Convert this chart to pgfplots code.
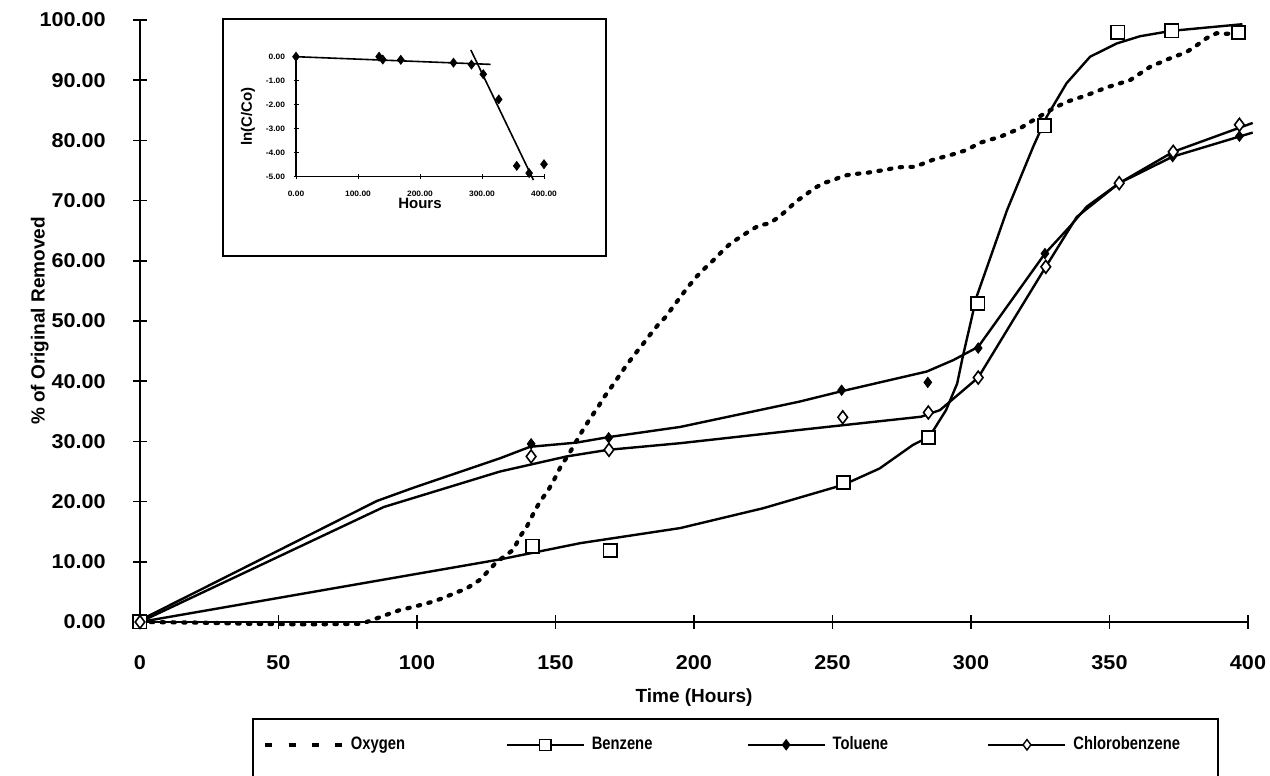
\documentclass[border=0pt]{standalone}
\usepackage{fontspec}
\setmainfont{Liberation Sans}
\newfontfamily\legfont{Liberation Sans}[FakeStretch=0.82]
\newfontfamily\tickfont{Liberation Sans}[FakeStretch=1.08]
\usepackage{pgfplots}
\pgfplotsset{compat=1.18}
\begin{document}
\begin{tikzpicture}
\begin{axis}[
  scale only axis, width=554pt, height=301pt,
  at={(70pt,77pt)}, anchor=south west,
  xmin=0, xmax=400, ymin=0, ymax=100,
  clip=false,
  axis x line*=bottom, axis y line*=left,
  axis line style={line width=1pt, black},
  xtick={0,50,...,400}, ytick={0,10,...,100},
  tick align=center, major tick length=7pt,
  tick style={line width=0.8pt, black},
  tick label style={font=\tickfont\bfseries\fontsize{10}{12}\selectfont},
  /pgf/number format/assume math mode=true,
  xticklabel style={anchor=north, inner sep=0pt, yshift=-13pt},
  yticklabel style={anchor=east, inner sep=0pt, xshift=-13.5pt,
    /pgf/number format/.cd, fixed, fixed zerofill, precision=2},
  xlabel={Time (Hours)},
  ylabel={\% of Original Removed},
  xlabel style={at={(axis description cs:0.5,-0.1096)}, anchor=north, inner sep=0pt, font=\bfseries\fontsize{9.5}{11}\selectfont},
  ylabel style={at={(axis description cs:-0.0821,0.5)}, rotate=0, anchor=south, inner sep=0pt, font=\bfseries\fontsize{9.5}{11}\selectfont},
  legend columns=4,
  legend cell align=left,
  legend image code/.code={\draw[mark repeat=2,mark phase=2,#1] plot coordinates {(0pt,0pt) (19.25pt,0pt) (38.5pt,0pt)};},
  legend style={at={(0.111,-0.204)}, anchor=west, draw=none, fill=none,
    inner sep=0pt, font=\legfont\bfseries\fontsize{9}{11}\selectfont,
    /tikz/every even column/.append style={column sep=0pt},
    /tikz/every odd column/.append style={column sep=0pt},
    nodes={inner xsep=3.5pt, inner ysep=1pt}},
]
\addlegendimage{black, line width=1.8pt, dash pattern=on 3.5pt off 8.2pt}
\addlegendentry{\makebox[74pt][l]{Oxygen}}
\addlegendimage{black, line width=0.9pt, mark=square*, mark size=2.8pt, mark options={fill=white, line width=0.7pt, solid}}
\addlegendentry{\makebox[74pt][l]{Benzene}}
\addlegendimage{black, line width=0.9pt, mark=diamond*, mark size=2.2pt, mark options={fill=black, solid}}
\addlegendentry{\makebox[74pt][l]{Toluene}}
\addlegendimage{black, line width=0.9pt, mark=diamond*, mark size=2.6pt, mark options={fill=white, line width=0.7pt, solid}}
\addlegendentry{\makebox[74pt][l]{Chlorobenzene}}

% Oxygen
\addplot[black, line width=2.1pt, line cap=round, dash pattern=on 1.2pt off 4.2pt, forget plot] coordinates {
(0,0) (20,-0.1) (40,-0.3) (60,-0.4) (80,-0.3) (85.4,0.6) (89,1.2) (93.9,2) (98.7,2.5) (105.9,3.4) (108.3,3.8) (118,5.6) (122.7,7) (128.2,9.7) (131.2,10.8) (134.8,12) (137.2,14.2) (139.6,15.8) (142,18) (144.4,20) (147.4,21.9) (149.8,23.9) (152.2,26.1) (154.6,27.7) (159.5,31.6) (162.5,33.8) (165.5,35.8) (167.3,37.2) (170.3,39.1) (173,40.9) (175.7,42.7) (178.5,44.4) (181.3,46) (184.1,47.7) (186.9,49.3) (189.8,50.7) (192.5,52.4) (197.9,55.7) (201,57.4) (204,58.8) (207,60.1) (210,61.5) (213.2,62.9) (216.9,64) (220.2,65) (223.6,65.9) (227.2,66.2) (230.4,67.2) (233.5,68.4) (236.7,69.8) (240.1,70.9) (243.3,72) (246.7,72.9) (250.3,73.4) (253.7,74.1) (257.5,74.4) (262.3,74.6) (266,74.9) (269.3,75.1) (272.9,75.5) (276.3,75.6) (279.8,75.6) (283,76.2) (286.4,76.8) (293.6,77.7) (298.4,78.4) (303.2,79.6) (310.5,80.6) (317.7,82) (323.7,83.7) (329.7,85.3) (334.5,86.4) (341.8,87.5) (349,88.8) (357.4,90) (364.6,92.2) (370.6,93.4) (377.9,94.7) (381.5,95.8) (385.1,97) (388.7,97.8) (392.3,97.7) (395,97.8)
};
% Benzene fit line
\addplot[black, line width=1.2pt, forget plot] coordinates {
(0,0) (50,4) (100,8) (130,10.4) (159,13.1) (195,15.6) (225,18.9) (254,22.8) (267,25.5) (279,29.4) (285,30.8) (291,35.2) (295,39.6) (297,44) (302,54) (313,68.4) (322.5,79) (327.3,83.9) (334.5,89.5) (343,93.9) (352.6,96.1) (361,97.3) (372.4,98.2) (398,99.3)
};
% Toluene fit line
\addplot[black, line width=1.2pt, forget plot] coordinates {
(0,0.3) (85.5,20.1) (98.7,22.3) (130,27.2) (140.8,29.1) (157.6,29.8) (169,30.7) (195,32.4) (238,36.6) (253,38.3) (284,41.6) (293.6,43.5) (302.6,45.7) (326.7,61.2) (335.7,65.7) (341.8,69) (353.5,72.9) (372.8,77.3) (401.7,81.3)
};
% Chlorobenzene fit line
\addplot[black, line width=1.2pt, forget plot] coordinates {
(0,0) (88,19.1) (130,25) (154,27.5) (169,28.6) (195,29.7) (238,31.9) (254,32.7) (282,34.1) (288.8,35.2) (302.6,40.6) (315.3,50.2) (327,59) (338.2,67.3) (353.5,72.9) (373,78.1) (401.7,82.9)
};
% Benzene data
\addplot[only marks, mark=square*, mark size=3.3pt, mark options={fill=white, draw=black, line width=0.9pt}, forget plot] coordinates {
(0,0) (141.7,12.6) (169.7,11.9) (254,23.2) (284.6,30.6) (302.5,52.9) (326.5,82.4) (353,98) (372.5,98.2) (396.5,97.9)
};
% Toluene data
\addplot[only marks, mark=diamond*, mark size=2.6pt, mark options={fill=black, draw=black}, forget plot] coordinates {
(0,0) (141.2,29.6) (169.2,30.6) (253.3,38.5) (284.4,39.8) (302.6,45.5) (326.7,61.2) (353.5,73) (372.8,77.3) (396.9,80.7)
};
% Chlorobenzene data
\addplot[only marks, mark=diamond*, mark size=3.2pt, mark options={fill=white, draw=black, line width=0.8pt}, forget plot] coordinates {
(0,0) (141.2,27.5) (169.3,28.6) (253.7,34) (284.6,34.8) (302.6,40.6) (327,59) (353.5,72.9) (373,78.1) (396.9,82.6)
};
\end{axis}

% inset frame and legend frame
\draw[line width=1pt, fill=white] (111.5pt,260pt) rectangle (303pt,378.5pt);
\draw[line width=1pt] (126.5pt,-5pt) rectangle (609pt,28.5pt);

\begin{axis}[
  scale only axis, width=124pt, height=60pt,
  at={(148pt,299.65pt)}, anchor=south west,
  xmin=0, xmax=400, ymin=-5, ymax=0,
  clip=false,
  axis x line*=bottom, axis y line*=left,
  axis line style={line width=0.8pt, black},
  xtick={0,100,...,400}, ytick={-5,-4,-3,-2,-1,0},
  tick align=center, major tick length=2.5pt,
  tick style={line width=0.5pt, black},
  tick label style={font=\tickfont\bfseries\fontsize{3.9}{4.5}\selectfont},
  /pgf/number format/assume math mode=true,
  /pgf/number format/fixed, /pgf/number format/fixed zerofill, /pgf/number format/precision=2,
  xticklabel style={anchor=north, inner sep=0pt, yshift=-5.8pt},
  yticklabel style={anchor=east, inner sep=0pt, xshift=-4pt},
  xlabel={Hours},
  ylabel={ln(C/Co)},
  xlabel style={at={(axis description cs:0.5,-0.225)}, anchor=center, inner sep=0pt, font=\bfseries\fontsize{7.5}{9}\selectfont},
  ylabel style={at={(axis description cs:-0.1935,0.5)}, rotate=0, anchor=center, inner sep=0pt, font=\bfseries\fontsize{7.5}{9}\selectfont},
]
\addplot[black, line width=0.8pt] coordinates {(0,0) (314,-0.32)};
\addplot[black, line width=0.8pt] coordinates {(282,0.28) (383,-5.14)};
\addplot[only marks, mark=diamond*, mark size=2.2pt, mark options={fill=black, draw=black}] coordinates {
(0,0) (134,0.0) (140,-0.12) (169,-0.13) (254,-0.25) (283,-0.33) (302,-0.73) (327,-1.78) (356,-4.55) (376,-4.85) (400,-4.48)
};
\end{axis}
\pgfresetboundingbox
\useasboundingbox (0,0) rectangle (635pt,388pt);
\end{tikzpicture}
\end{document}
